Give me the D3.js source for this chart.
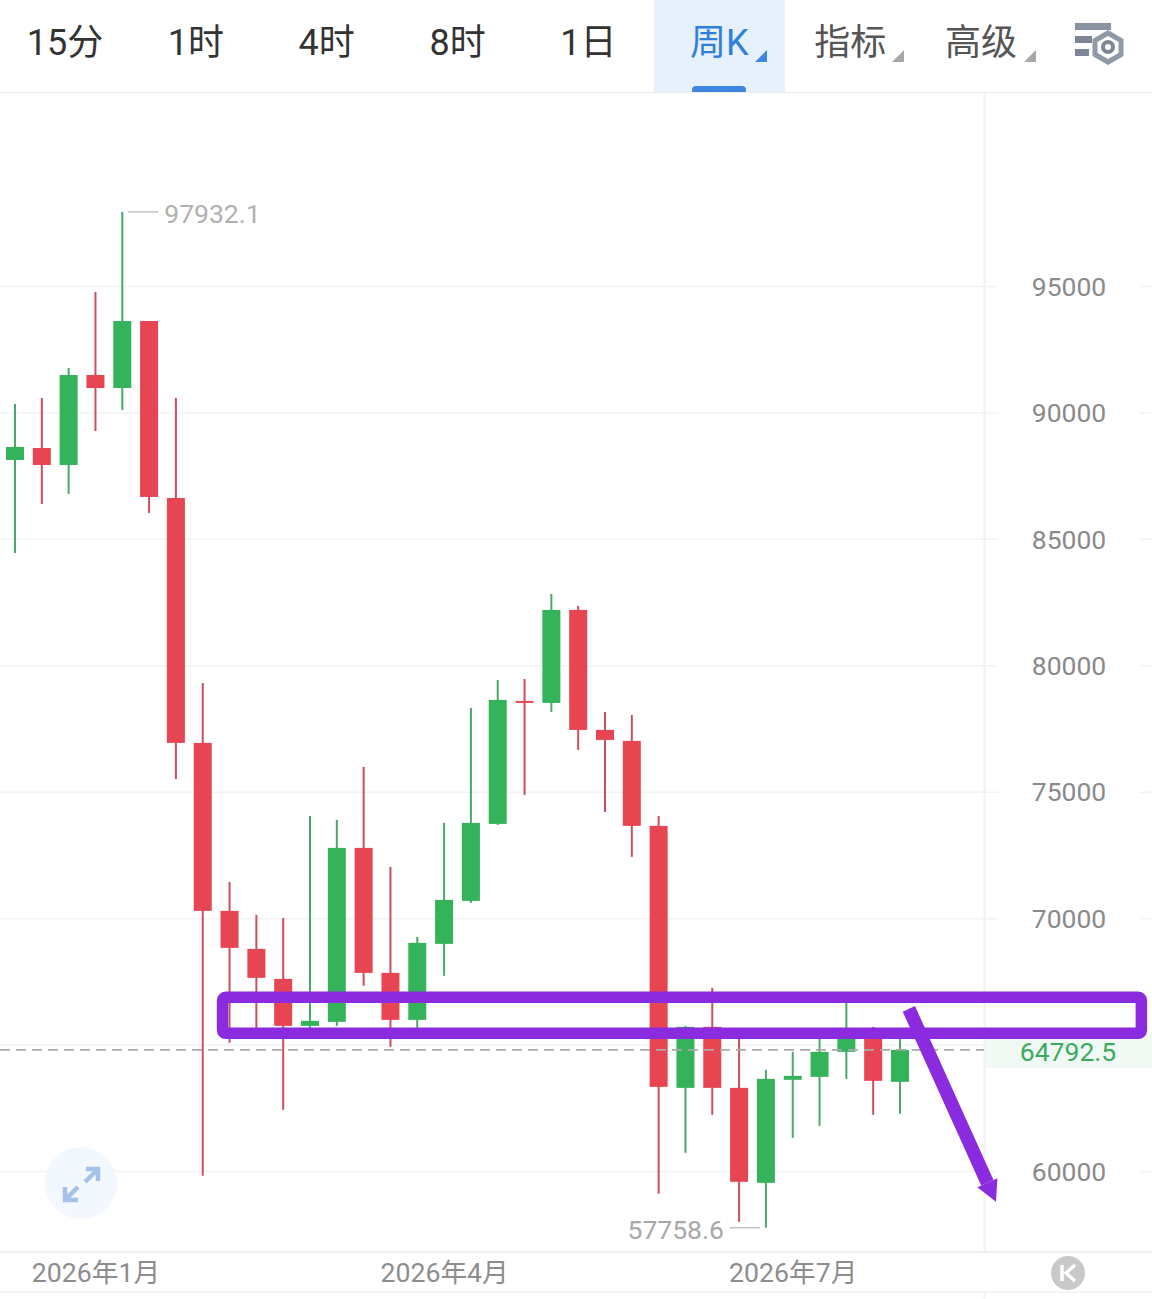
<!DOCTYPE html>
<html><head><meta charset="utf-8">
<script src="https://cdn.jsdelivr.net/npm/d3@7/dist/d3.min.js"></script>
<style>html,body{margin:0;padding:0;background:#fff}svg{display:block}
text{font-family:Roboto,"Noto Sans CJK SC",sans-serif}</style></head>
<body><svg id="c" width="1152" height="1299"></svg>
<script>
// candle values (weekly), oldest first
const opens  = [88120,88594,87922,91480,90966,93616,86617,76930,70287,68785,67598,65740,65898,72778,67836,65977,68982,70682,73727,78590,78511,82189,77444,77009,73648,63288,65700,63288,59532,63605,63723,64712,65345,63526];
const closes = [88634,87922,91480,90966,93616,86657,76930,70287,68824,67638,65740,65938,72778,67836,65977,69022,70722,73767,78630,78511,82189,77444,77048,73648,63328,65700,63288,59572,63644,63763,64712,65384,63565,64792.5];
const highs  = [90334,90571,91757,94762,97932.1,93616,90571,79302,71434,70129,70010,74043,73885,75981,72027,69259,73767,78314,79421,79460,82821,82347,78156,78037,74043,65740,67242,65503,64000,64712,65384,66649,65700,65503];
const lows   = [84442,86380,86775,89266,90097,86024,75506,59809,65068,65661,62419,65621,65740,67322,64910,65661,67717,70603,73687,74874,78156,76653,74202,72422,59097,60718,62221,57990,57758.6,61311,61786,63644,62221,62260];
const priceTicks = [60000,65000,70000,75000,80000,85000,90000,95000];
const priceLabels = [60000,70000,75000,80000,85000,90000,95000];
const dateTickIndex = [3,16,29];
const dateTickLabels = ["2026年1月","2026年4月","2026年7月"];
const tabs = ["15分","1时","4时","8时","1日","周K","指标","高级"];
const lastPrice = 64792.5, maxPrice = 97932.1, minPrice = 57758.6;
// hand-drawn purple annotation, in chart units
const zoneIdx = [7.74,42.0], zonePrice = [65444,66867];
const arrowFrom = [33.33,66412], arrowTo = [36.58,58781];

const FONT='Roboto,"Noto Sans CJK SC",sans-serif';
const UP="#35b35b", DOWN="#e84553", WICK_UP="#49a96a", WICK_DOWN="#c9505f", PURPLE="#8a2be0", GRID="#f1f3f5";
const svg=d3.select("#c");
const x=d3.scaleLinear().domain([0,33]).range([15,900]);
const y=d3.scaleLinear().domain([60000,95000]).range([1171,286]);
const bandW=18;

// tab bar
const tabX=d3.scaleLinear().domain([0,7]).range([65,981]);
svg.append("rect").attr("x",654).attr("y",0).attr("width",131).attr("height",92).attr("fill","#e6f1fc");
svg.append("line").attr("x1",0).attr("x2",1152).attr("y1",92.5).attr("y2",92.5).attr("stroke","#eff0f2").attr("stroke-width",1.5);
svg.append("path").attr("d","M692,92V90a4,4 0 0 1 4,-4H742a4,4 0 0 1 4,4V92Z").attr("fill","#3f86e0");
svg.selectAll("text.tab").data(tabs).join("text").attr("class","tab")
  .attr("x",(d,i)=>tabX(i)).attr("y",55).attr("text-anchor","middle").attr("font-size",36)
  .attr("fill",(d,i)=>i===5?"#2f80dc":(i>5?"#555":"#333")).text(d=>d);
[[767,"#3f86e0"],[904,"#a8a8a8"],[1036,"#a8a8a8"]].forEach(([r,c])=>{
  svg.append("path").attr("d",`M${r},50V62H${r-12}Z`).attr("fill",c);
});
// settings icon
const ic=svg.append("g").attr("fill","#7c8696");
ic.append("rect").attr("x",1075).attr("y",23).attr("width",36).attr("height",7).attr("fill","#8a93a2");
ic.append("rect").attr("x",1075).attr("y",36).attr("width",17).attr("height",7);
ic.append("rect").attr("x",1075).attr("y",49).attr("width",14).attr("height",7);
svg.append("path").attr("d","M1108,33L1121,40.5V54.5L1108,62L1095,54.5V40.5Z").attr("fill","none").attr("stroke","#8f99a8").attr("stroke-width",5);
svg.append("circle").attr("cx",1108).attr("cy",47).attr("r",5).attr("fill","none").attr("stroke","#7c8696").attr("stroke-width",4);

// frame
svg.append("line").attr("x1",984.5).attr("x2",984.5).attr("y1",93).attr("y2",1252).attr("stroke","#f0f1f3").attr("stroke-width",2);
svg.append("line").attr("x1",984.5).attr("x2",984.5).attr("y1",1292).attr("y2",1299).attr("stroke","#f3f4f5").attr("stroke-width",2);
svg.append("line").attr("x1",0).attr("x2",1152).attr("y1",1252).attr("y2",1252).attr("stroke","#eeeff1").attr("stroke-width",2);
svg.append("line").attr("x1",0).attr("x2",1152).attr("y1",1292).attr("y2",1292).attr("stroke","#f3f4f5").attr("stroke-width",2);

// y axis and grid
const yAxis=d3.axisRight(y).tickValues(priceTicks).tickSize(998).tickFormat(d=>priceLabels.includes(d)?d:"");
const ya=svg.append("g").call(yAxis);
ya.select(".domain").remove();
ya.selectAll(".tick line").attr("stroke",GRID).attr("stroke-width",1.5);
ya.selectAll(".tick text").attr("x",1069).attr("text-anchor","middle").attr("dy","0.35em").attr("fill","#8a8a8a").attr("font-size",26.5).style("font-family",FONT);
ya.selectAll(".tick").filter(d=>priceLabels.includes(d)).append("line").attr("x1",1140).attr("x2",1152).attr("stroke",GRID).attr("stroke-width",1.5);

// x axis labels
const xAxis=d3.axisBottom(x).tickValues(dateTickIndex).tickSize(0).tickFormat((d,i)=>dateTickLabels[i]);
const xa=svg.append("g").attr("transform","translate(0,1252)").call(xAxis);
xa.select(".domain").remove();
xa.selectAll(".tick text").attr("y",21).attr("dy","0.35em").attr("fill","#8d8d8d").attr("font-size",26.7).style("font-family",FONT);

// expand button
svg.append("circle").attr("cx",81).attr("cy",1183).attr("r",36).attr("fill","#f3f7fe");
svg.append("path").attr("d","M86,1169H98V1181M97,1170L85,1182M65,1187V1200H78M66,1199L78,1187")
  .attr("fill","none").attr("stroke","#a5c2ea").attr("stroke-width",4.5);

// candles
const data=opens.map((o,i)=>({i,o,c:closes[i],h:highs[i],l:lows[i],up:closes[i]>=o}));
svg.append("g").selectAll("line").data(data).join("line")
  .attr("x1",d=>x(d.i)).attr("x2",d=>x(d.i)).attr("y1",d=>y(d.h)).attr("y2",d=>y(d.l))
  .attr("stroke",d=>d.up?WICK_UP:WICK_DOWN).attr("stroke-width",2);
svg.append("g").selectAll("rect").data(data).join("rect")
  .attr("x",d=>x(d.i)-bandW/2).attr("width",bandW)
  .attr("y",d=>y(Math.max(d.o,d.c))).attr("height",d=>Math.max(2,Math.abs(y(d.o)-y(d.c))))
  .attr("fill",d=>d.up?UP:DOWN);

// last price
svg.append("line").attr("x1",0).attr("x2",984).attr("y1",y(lastPrice)).attr("y2",y(lastPrice))
  .attr("stroke","#a9a9a9").attr("stroke-width",1.8).attr("stroke-dasharray","10,6");
svg.append("rect").attr("x",985).attr("y",y(lastPrice)-16).attr("width",167).attr("height",34).attr("fill","#f1f9f4");
svg.append("text").attr("x",1068).attr("y",y(lastPrice)+2).attr("dy","0.35em").attr("text-anchor","middle")
  .attr("fill","#3aab60").attr("font-size",26.5).text(lastPrice.toFixed(1));

// max / min
const iMax=highs.indexOf(maxPrice), iMin=lows.indexOf(minPrice);
svg.append("line").attr("x1",x(iMax)+6).attr("x2",x(iMax)+36).attr("y1",y(maxPrice)).attr("y2",y(maxPrice)).attr("stroke","#c4c4c4").attr("stroke-width",1.5);
svg.append("text").attr("x",x(iMax)+42).attr("y",y(maxPrice)+2).attr("dy","0.35em").attr("fill","#b0b0b0").attr("font-size",26.5).text(maxPrice.toFixed(1));
svg.append("line").attr("x1",x(iMin)-6).attr("x2",x(iMin)-36).attr("y1",y(minPrice)).attr("y2",y(minPrice)).attr("stroke","#c4c4c4").attr("stroke-width",1.5);
svg.append("text").attr("x",x(iMin)-42).attr("y",y(minPrice)+2).attr("dy","0.35em").attr("text-anchor","end").attr("fill","#a8a8a8").attr("font-size",26.5).text(minPrice.toFixed(1));

// K button
svg.append("circle").attr("cx",1068).attr("cy",1273).attr("r",17).attr("fill","#c9c9c9");
svg.append("path").attr("d","M1062,1265V1281M1075,1265L1066,1273L1075,1281").attr("fill","none").attr("stroke","#fff").attr("stroke-width",3.5);

// purple annotation
const zx0=x(zoneIdx[0]), zx1=x(zoneIdx[1]), zy0=y(zonePrice[1]), zy1=y(zonePrice[0]);
svg.append("rect").attr("x",zx0).attr("y",zy0).attr("width",zx1-zx0).attr("height",zy1-zy0).attr("rx",3)
  .attr("fill","none").attr("stroke",PURPLE).attr("stroke-width",11.5);
const ax0=x(arrowFrom[0]), ay0=y(arrowFrom[1]), ax1=x(arrowTo[0]), ay1=y(arrowTo[1]);
const ang=Math.atan2(ay1-ay0,ax1-ax0);
const back=21, hw=11;
const bx=ax1-back*Math.cos(ang), by=ay1-back*Math.sin(ang);
svg.append("line").attr("x1",ax0).attr("y1",ay0).attr("x2",bx).attr("y2",by).attr("stroke",PURPLE).attr("stroke-width",13.5);
svg.append("polygon").attr("fill",PURPLE).attr("points",[
  [ax1,ay1],[bx-hw*Math.sin(ang),by+hw*Math.cos(ang)],[bx+hw*Math.sin(ang),by-hw*Math.cos(ang)]
].map(p=>p.join(",")).join(" "));
</script></body></html>
